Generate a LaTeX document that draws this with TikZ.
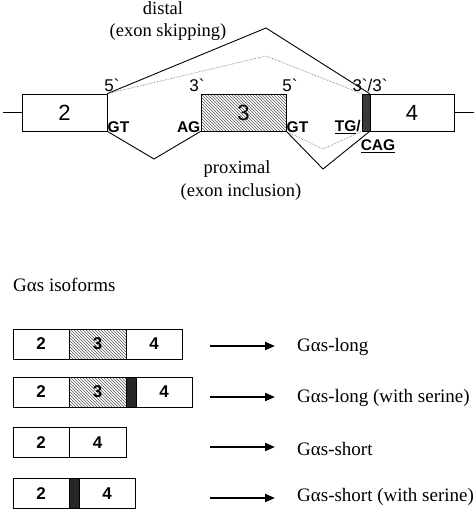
\documentclass[tikz,border=0pt]{standalone}
\usepackage{fontspec}
\setmainfont{Liberation Serif}
\newfontfamily\arialf{Liberation Sans}
\usetikzlibrary{patterns,arrows.meta}
\definecolor{bargray}{HTML}{3A3A3A}
\begin{document}
\begin{tikzpicture}[x=1pt,y=-1pt,
  exon/.style={draw, line width=0.8pt, fill=white, minimum height=37pt, inner sep=0pt, font=\arialf\fontsize{22}{22}\selectfont},
  hatch/.style={pattern=north west lines, pattern color=black!65},
  darkbar/.style={draw, line width=0.8pt, fill=bargray, minimum height=37pt, minimum width=8pt, inner sep=0pt},
  cell/.style={draw, line width=0.8pt, fill=white, minimum height=30pt, inner sep=0pt, font=\arialf\bfseries\fontsize{17}{17}\selectfont},
  cbar/.style={draw, line width=0.8pt, fill=black!85, minimum height=30pt, inner sep=0pt},
  site/.style={font=\arialf\fontsize{17}{17}\selectfont, inner sep=0pt},
  motif/.style={font=\arialf\bfseries\fontsize{15.5}{15.5}\selectfont, inner sep=0pt},
  serif/.style={font=\fontsize{18.5}{18.5}\selectfont, inner sep=0pt},
  iso/.style={font=\fontsize{19}{19}\selectfont, inner sep=0pt, anchor=west},
  junc/.style={line width=0.9pt},
  alt/.style={line width=0.6pt, densely dotted, black!60},
  arr/.style={line width=2pt, -{Triangle[length=10pt,width=8pt]}}
]
\useasboundingbox (0,0) rectangle (474,514);

% ---- gene structure ----
\coordinate (lend) at (3,112.5);
\coordinate (rend) at (474,112.5);
\node[exon, minimum width=85pt] (e2) at (64.5,112.5) {2};
\node[exon, minimum width=85pt, fill=white] (e3bg) at (243.5,112.5) {};
\node[exon, minimum width=85pt, hatch] (e3) at (243.5,112.5) {3};
\node[darkbar] (bar) at (366,112.5) {};
\node[exon, minimum width=84pt] (e4) at (412,112.5) {4};
\draw[line width=0.8pt] (lend) -- (e2.west);
\draw[line width=0.8pt] (e4.east) -- (rend);

\coordinate (apD) at (266,28);
\coordinate (apd) at (266,56);
\coordinate (apP1) at (154,159);
\coordinate (apP2) at (323,169);
\coordinate (app2) at (323,149);

\draw[junc] (e2.north east) -- (apD) -- (e4.north west);
\draw[alt] (e2.north east) -- (apd) -- (bar.north west);
\draw[junc] (e2.south east) -- (apP1) -- (e3.south west);
\draw[junc] (e3.south east) -- (apP2) -- (e4.south west);
\draw[alt] (e3.south east) -- (app2) -- (bar.south west);

\node[serif] (distal) at (163,8) {distal};
\node[serif] (skip) at (168,32) {(exon skipping)};
\node[serif] (prox) at (237,169) {proximal};
\node[serif] (incl) at (241,192) {(exon inclusion)};

\node[site] (s1) at (112,85) {5`};
\node[site] (s2) at (197,85) {3`};
\node[site] (s3) at (290,85) {5`};
\node[site] (s4) at (370,85) {3`/3`};

\node[motif, anchor=west] (gt1) at (107.5,127) {GT};
\node[motif, anchor=east] (ag) at (200.5,127) {AG};
\node[motif, anchor=west] (gt2) at (286.5,127) {GT};
\node[motif, anchor=east] (tg) at (361,127) {\underline{TG}/};
\node[motif] (cag) at (378,146) {\underline{CAG}};

% ---- isoforms ----
\node[iso] (title) at (13,285) {Gαs isoforms};

% row 1
\node[cell, minimum width=56pt] (r1a) at (41,344) {2};
\node[cell, minimum width=57pt, fill=white] (r1bbg) at (97.5,344) {};
\node[cell, minimum width=57pt, hatch] (r1b) at (97.5,344) {3};
\node[cell, minimum width=56pt] (r1c) at (154,344) {4};
% row 2
\node[cell, minimum width=56pt] (r2a) at (41,392) {2};
\node[cell, minimum width=57pt, fill=white] (r2bbg) at (97.5,392) {};
\node[cell, minimum width=57pt, hatch] (r2b) at (97.5,392) {3};
\node[cbar, minimum width=10pt] (r2s) at (131,392) {};
\node[cell, minimum width=56pt] (r2c) at (164,392) {4};
% row 3
\node[cell, minimum width=56pt] (r3a) at (41,442.5) {2};
\node[cell, minimum width=57pt] (r3c) at (97.5,442.5) {4};
% row 4
\node[cell, minimum width=56pt] (r4a) at (41,493.5) {2};
\node[cbar, minimum width=10pt] (r4s) at (74,493.5) {};
\node[cell, minimum width=56pt] (r4c) at (107,493.5) {4};

% arrows and labels
\node[iso] (l1) at (297,347) {Gαs-long};
\node[iso] (l2) at (297,398) {Gαs-long (with serine)};
\node[iso] (l3) at (297,449) {Gαs-short};
\node[iso] (l4) at (297,497) {Gαs-short (with serine)};
\coordinate (a1s) at (210,346); \coordinate (a1e) at (275,346);
\coordinate (a2s) at (210,397); \coordinate (a2e) at (275,397);
\coordinate (a3s) at (210,447); \coordinate (a3e) at (275,447);
\coordinate (a4s) at (210,498); \coordinate (a4e) at (275,498);
\draw[arr] (a1s) -- (a1e);
\draw[arr] (a2s) -- (a2e);
\draw[arr] (a3s) -- (a3e);
\draw[arr] (a4s) -- (a4e);
\end{tikzpicture}
\end{document}
